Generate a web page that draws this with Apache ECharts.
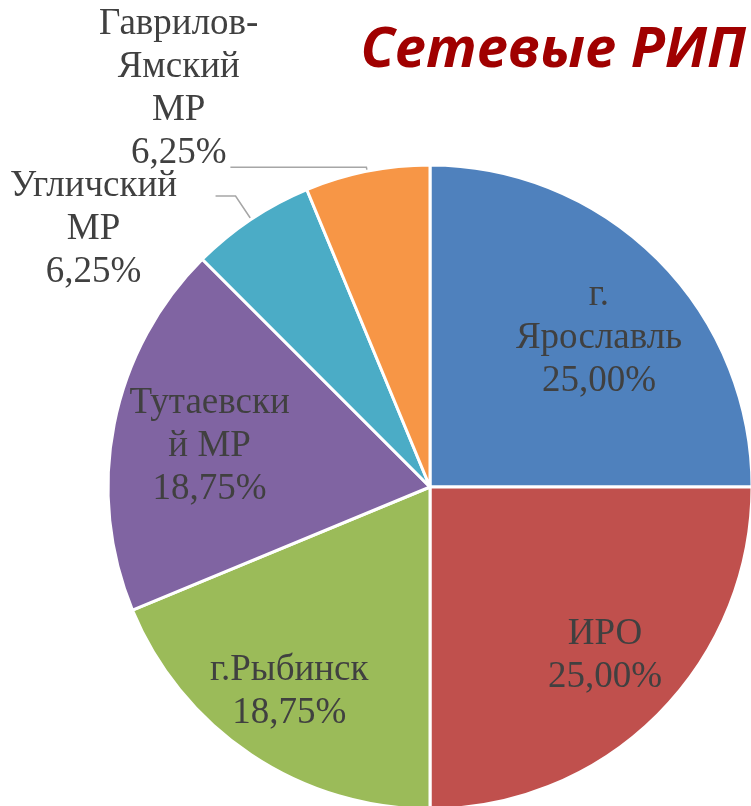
<!DOCTYPE html>
<html>
<head>
<meta charset="utf-8">
<script src="https://cdn.jsdelivr.net/npm/echarts@6/dist/echarts.min.js"></script>
<style>
  html, body { margin: 0; padding: 0; background: #fff; }
  #chart { width: 751px; height: 806px; }
</style>
</head>
<body>
<div id="chart"></div>
<script>
// данные диаграммы
const names = ['г. Ярославль', 'ИРО', 'г.Рыбинск', 'Тутаевский МР', 'Угличский МР', 'Гаврилов-Ямский МР'];
const values = [25, 25, 18.75, 18.75, 6.25, 6.25];
// переносы строк в подписях, как в оригинале
const labelLines = [
  ['г.', 'Ярославль'],
  ['ИРО'],
  ['г.Рыбинск'],
  ['Тутаевски', 'й МР'],
  ['Угличский', 'МР'],
  ['Гаврилов-', 'Ямский', 'МР']
];
const colors = ['#4F81BD', '#C0504D', '#9BBB59', '#8064A2', '#4BACC6', '#F79646'];

const chart = echarts.init(document.getElementById('chart'));

const R = 322;
const center = [430, 487];
const serif = 'Liberation Serif';

const labelFormatter = (p) => {
  const pct = p.percent.toFixed(2).replace('.', ',') + '%';
  return labelLines[p.dataIndex].concat(pct).map(s => '{c|' + s + '}').join('\n');
};

const labelStyle = {
  color: '#404040',
  fontFamily: serif,
  fontSize: 37,
  overflow: 'none',
  rich: {
    c: {
      align: 'center',
      color: '#404040',
      fontFamily: serif,
      fontSize: 37,
      lineHeight: 43
    }
  }
};

const option = {
  animation: false,
  title: {
    text: 'Сетевые РИП',
    right: 0,
    top: 18,
    textStyle: {
      color: '#A00000',
      fontFamily: 'Open Sans',
      fontStyle: 'italic',
      fontWeight: 'bold',
      fontSize: 56
    }
  },
  series: [
    {
      type: 'pie',
      center: center,
      radius: [0, R],
      startAngle: 90,
      silent: true,
      label: { show: false },
      labelLine: { show: false },
      itemStyle: { borderColor: '#fff', borderWidth: 3 },
      data: names.map((n, i) => ({
        name: n,
        value: values[i],
        itemStyle: { color: colors[i] }
      }))
    },
    {
      // прозрачное кольцо только для подписей
      type: 'pie',
      center: center,
      radius: [150, R],
      startAngle: 90,
      silent: true,
      avoidLabelOverlap: false,
      itemStyle: { color: 'rgba(0,0,0,0)' },
      label: Object.assign({ show: true, position: 'inside', formatter: labelFormatter }, labelStyle),
      labelLayout: (p) => {
        if (p.dataIndex === 5) return { dx: 32, dy: -78 };
        if (p.dataIndex === 3) return { dx: 14, dy: 6 };
        if (p.dataIndex === 0) return { dy: 20 };
        if (p.dataIndex === 1) return { dx: 6 };
        if (p.dataIndex === 2) return { dx: -8, dy: 6 };
        return {};
      },
      data: names.map((n, i) => {
        const item = { name: n, value: values[i] };
        if (i === 4) {
          item.label = {
            position: 'outside',
            alignTo: 'edge',
            edgeDistance: 10,
            distanceToLabelLine: 4,
            // текст ниже конца выноски
            padding: [66, 0, 0, 0]
          };
          item.labelLine = {
            show: true,
            length: 28,
            length2: 20,
            lineStyle: { color: '#A6A6A6', width: 1.5 }
          };
        }
        if (i === 5) {
          item.label = { position: 'outside', distanceToLabelLine: 4 };
          item.labelLine = {
            show: true,
            length: 4,
            length2: 136,
            lineStyle: { color: '#A6A6A6', width: 1.5 }
          };
        }
        return item;
      })
    }
  ]
};

chart.setOption(option);
</script>
</body>
</html>
